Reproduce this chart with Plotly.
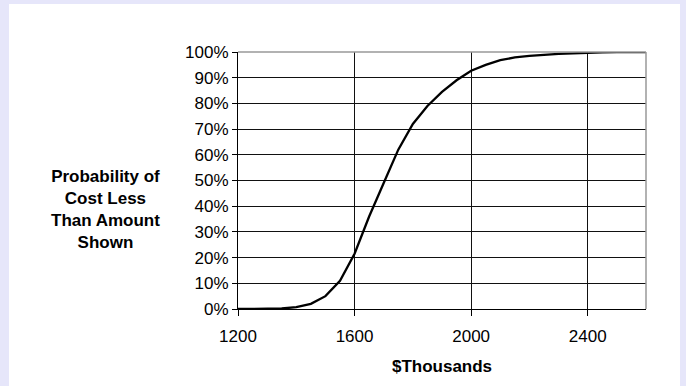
import plotly.graph_objects as go

# Data
cost_thousands = [1200, 1250, 1300, 1350, 1400, 1450, 1500, 1550, 1600, 1650, 1700,
                  1750, 1800, 1850, 1900, 1950, 2000, 2050, 2100, 2150, 2200, 2250,
                  2300, 2350, 2400, 2450, 2500, 2550, 2600]
prob_pct = [0, 0, 0, 0.2, 0.7, 2.0, 5.0, 11.0, 21.5, 36.0, 49.0,
            62.0, 72.0, 79.0, 84.5, 89.0, 92.7, 95.0, 96.8, 97.9, 98.5, 99.0,
            99.3, 99.5, 99.8, 99.9, 100, 100, 100]
x_ticks = [1200, 1600, 2000, 2400]
y_ticks = [0, 10, 20, 30, 40, 50, 60, 70, 80, 90, 100]
y_tick_labels = ["0%", "10%", "20%", "30%", "40%", "50%", "60%", "70%", "80%", "90%", "100%"]

W, H = 686, 386
L, R, T, B = 238, 646, 52, 309
pw, ph = R - L, B - T

def px(x):
    return (x - L) / pw

def py(y):
    return (B - y) / ph

FONT = "Liberation Sans, Arial, sans-serif"

fig = go.Figure()
fig.add_trace(go.Scatter(x=cost_thousands, y=prob_pct, mode="lines",
                         line=dict(color="black", width=2.3), hoverinfo="skip",
                         showlegend=False))

fig.update_layout(
    width=W, height=H,
    margin=dict(l=L, r=W - R, t=T, b=H - B),
    paper_bgcolor="#E6E6FA",
    plot_bgcolor="white",
    font=dict(family=FONT, size=17, color="black"),
    xaxis=dict(range=[1200, 2600], tickvals=x_ticks, ticks="outside", ticklen=6,
               tickcolor="black", showgrid=True, gridcolor="#111", gridwidth=1,
               showline=True, linecolor="black", linewidth=1, zeroline=False,
               tickfont=dict(size=17), ticklabelstandoff=6,
               title=dict(text="<b>$Thousands</b>", font=dict(size=17), standoff=14)),
    yaxis=dict(range=[0, 100], tickvals=y_ticks, ticktext=y_tick_labels, ticks="outside",
               ticklen=5, tickcolor="black", showgrid=True, gridcolor="#111",
               gridwidth=1, showline=True, linecolor="black", linewidth=1,
               zeroline=False, tickfont=dict(size=17)),
    shapes=[
        dict(type="rect", xref="paper", yref="paper", layer="below",
             x0=px(9), x1=px(680), y0=py(H + 5), y1=py(4),
             fillcolor="white", line=dict(width=0)),
        dict(type="line", xref="paper", yref="paper", x0=1, x1=1, y0=0, y1=1,
             line=dict(color="#999", width=1.5)),
        dict(type="line", xref="paper", yref="paper", x0=0, x1=1, y0=1, y1=1,
             line=dict(color="#999", width=1.5)),
    ],
    annotations=[
        dict(text="<b>Probability of<br>Cost Less<br>Than Amount<br>Shown</b>",
             xref="paper", yref="paper", x=px(105), y=py(209),
             xanchor="center", yanchor="middle", align="center", showarrow=False,
             font=dict(size=17, family=FONT)),
    ],
)

fig.write_html("out.html", config={"displayModeBar": False},
               post_script="document.body.style.margin='0';")
